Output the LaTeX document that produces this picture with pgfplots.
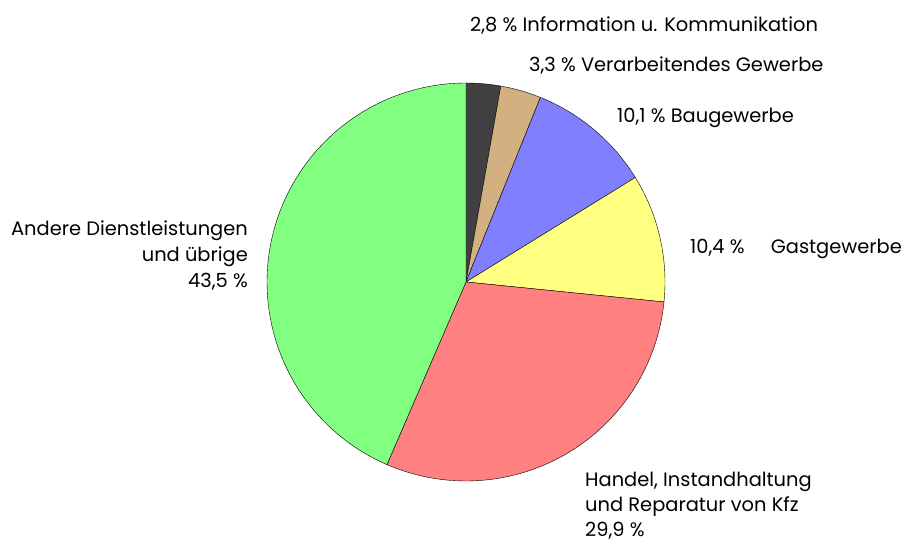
\documentclass[border=0pt]{standalone}
\usepackage{fontspec}
\setmainfont{Poppins}
\usepackage{pgfplots}
\usepgfplotslibrary{polar}
\pgfplotsset{compat=1.18}
\definecolor{cInfo}{HTML}{404040}
\definecolor{cVer}{HTML}{D2B07F}
\definecolor{cBau}{HTML}{8080FF}
\definecolor{cGast}{HTML}{FFFF80}
\definecolor{cHan}{HTML}{FF8080}
\definecolor{cAnd}{HTML}{80FF80}
\begin{document}
\begin{tikzpicture}[x=1bp,y=1bp]
\path[use as bounding box] (0,0) rectangle (906,545);
\begin{polaraxis}[
  hide axis, clip=false,
  width=398bp, height=398bp, scale only axis,
  ymin=0, ymax=1,
  at={(466bp,263bp)}, anchor=origin,
]
% cumulative percentages: 0, 2.8, 6.1, 16.2, 26.6, 56.5, 100 (clockwise from top)
\addplot[fill=cInfo, draw=black, thin, domain={90-3.6*2.8}:90, samples=20] {1} -- (axis cs:0,0) -- cycle;
\addplot[fill=cVer, draw=black, thin, domain={90-3.6*6.1}:{90-3.6*2.8}, samples=20] {1} -- (axis cs:0,0) -- cycle;
\addplot[fill=cBau, draw=black, thin, domain={90-3.6*16.2}:{90-3.6*6.1}, samples=40] {1} -- (axis cs:0,0) -- cycle;
\addplot[fill=cGast, draw=black, thin, domain={90-3.6*26.6}:{90-3.6*16.2}, samples=40] {1} -- (axis cs:0,0) -- cycle;
\addplot[fill=cHan, draw=black, thin, domain={90-3.6*56.5}:{90-3.6*26.6}, samples=80] {1} -- (axis cs:0,0) -- cycle;
\addplot[fill=cAnd, draw=black, thin, domain={90-3.6*100}:{90-3.6*56.5}, samples=100] {1} -- (axis cs:0,0) -- cycle;
\end{polaraxis}
\begin{scope}[every node/.style={inner sep=0pt, font=\fontsize{19.5}{25}\selectfont}]
\node[anchor=base west] at (470,513) {2,8 \% Information u. Kommunikation};
\node[anchor=base west] at (529,473) {3,3 \% Verarbeitendes Gewerbe};
\node[anchor=base west] at (617,422) {10,1 \% Baugewerbe};
\node[anchor=base west] at (690,291) {10,4 \%};
\node[anchor=base east] at (902,291) {Gastgewerbe};
\node[anchor=base east] at (248,309) {Andere Dienstleistungen};
\node[anchor=base east] at (248,283) {und übrige};
\node[anchor=base east] at (248,257) {43,5 \%};
\node[anchor=base west] at (585,58) {Handel, Instandhaltung};
\node[anchor=base west] at (585,33) {und Reparatur von Kfz};
\node[anchor=base west] at (585,8) {29,9 \%};
\end{scope}
\end{tikzpicture}
\end{document}
